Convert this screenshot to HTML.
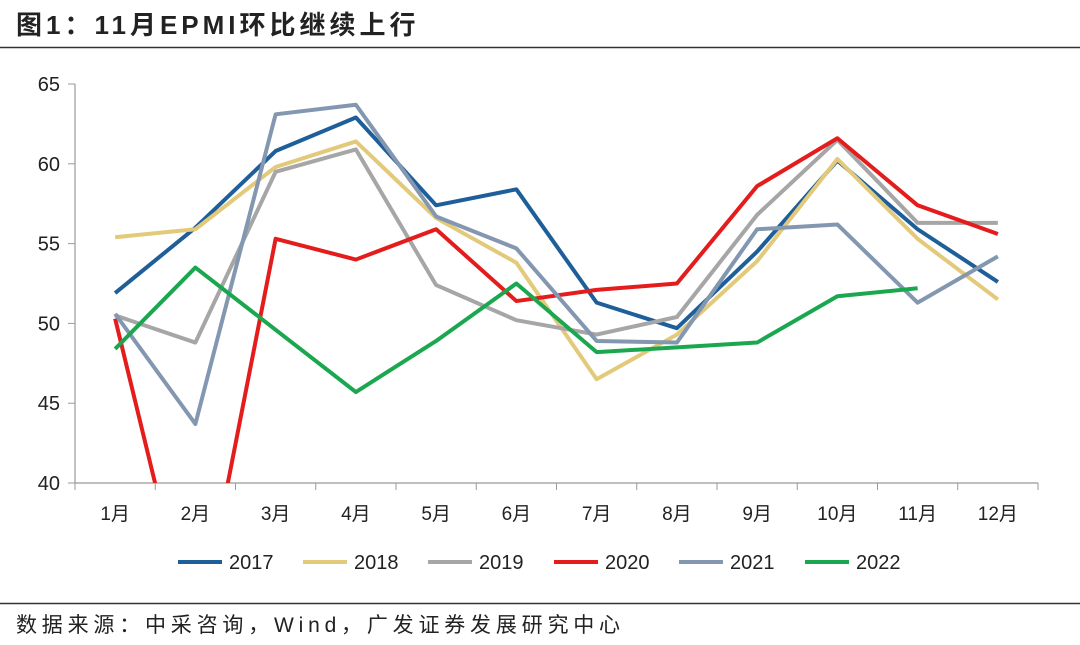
<!DOCTYPE html>
<html><head><meta charset="utf-8"><style>
body{margin:0;background:#fff;width:1080px;height:640px;overflow:hidden;font-family:"Liberation Sans","Noto Sans CJK SC",sans-serif}
</style></head><body>
<svg width="1080" height="640" xmlns="http://www.w3.org/2000/svg">
<text x="16" y="34" font-size="26" font-weight="bold" letter-spacing="4" fill="#222" font-family="Liberation Sans, Noto Sans CJK SC, sans-serif">图1：11月EPMI环比继续上行</text>
<line x1="0" y1="47.5" x2="1080" y2="47.5" stroke="#333" stroke-width="1.5"/>
<line x1="0" y1="603.5" x2="1080" y2="603.5" stroke="#333" stroke-width="1.5"/>
<text x="16" y="632" font-size="21" letter-spacing="4.8" fill="#222" font-family="Liberation Sans, Noto Sans CJK SC, sans-serif">数据来源：中采咨询，Wind，广发证券发展研究中心</text>
<defs><clipPath id="pc"><rect x="75" y="60" width="980" height="423"/></clipPath></defs>
<g id="axes"></g>
<g id="lines" clip-path="url(#pc)"></g>
<g id="legend"></g>
</svg>
<script>
const categories=["1月","2月","3月","4月","5月","6月","7月","8月","9月","10月","11月","12月"];
const yTicks=[40,45,50,55,60,65];
const seriesNames=["2017","2018","2019","2020","2021","2022"];
const seriesColors=["#1f5f99","#e3c97a","#a6a6a6","#e41c1c","#8497b0","#1aa750"];
const s2017=[51.9,56.0,60.8,62.9,57.4,58.4,51.3,49.7,54.5,60.2,55.9,52.6];
const s2018=[55.4,55.9,59.8,61.4,56.6,53.8,46.5,49.3,53.9,60.3,55.3,51.5];
const s2019=[50.5,48.8,59.5,60.9,52.4,50.2,49.3,50.4,56.8,61.5,56.3,56.3];
const s2020=[50.3,29.6,55.3,54.0,55.9,51.4,52.1,52.5,58.6,61.6,57.4,55.6];
const s2021=[50.6,43.7,63.1,63.7,56.7,54.7,48.9,48.8,55.9,56.2,51.3,54.2];
const s2022=[48.4,53.5,49.6,45.7,48.9,52.5,48.2,48.5,48.8,51.7,52.2];
const allSeries=[s2017,s2018,s2019,s2020,s2021,s2022];
const NS="http://www.w3.org/2000/svg";
const x0=75,x1=1038,yB=483,yT=84;
const bw=(x1-x0)/categories.length;
const xs=i=>x0+bw*(i+0.5);
const ys=v=>yB-(v-40)/(65-40)*(yB-yT);
function mk(t,a,p){const e=document.createElementNS(NS,t);for(const k in a)e.setAttribute(k,a[k]);p.appendChild(e);return e;}
const ax=document.getElementById('axes');
const yl=mk('line',{x1:x0,y1:yT,x2:x0,y2:yB,stroke:'#999','stroke-width':1.2},ax);


const xl=mk('line',{x1:x0,y1:yB,x2:x1,y2:yB,stroke:'#999','stroke-width':1.2},ax);


yTicks.forEach(v=>{
 mk('line',{x1:x0-7,y1:ys(v),x2:x0,y2:ys(v),stroke:'#999'},ax);
 const t=mk('text',{x:x0-15,y:ys(v)+7,'text-anchor':'end','font-size':20,fill:'#222'},ax);
 t.textContent=v;
 
 
});
for(let i=0;i<=categories.length;i++)mk('line',{x1:x0+bw*i,y1:yB,x2:x0+bw*i,y2:yB+7,stroke:'#999'},ax);
categories.forEach((c,i)=>{
 const t=mk('text',{x:xs(i),y:yB+37,'text-anchor':'middle','font-size':19,fill:'#222'},ax);
 t.textContent=c;
 
 
});
const lg=document.getElementById('lines');
allSeries.forEach((s,k)=>{
 const p=mk('polyline',{points:s.map((v,i)=>xs(i)+','+ys(v)).join(' '),fill:'none',stroke:seriesColors[k],'stroke-width':4,'stroke-linejoin':'round'},lg);
 
 
});
const le=document.getElementById('legend');
const lx=[178,303,428,554,679,805];
seriesNames.forEach((n,k)=>{
 const g=mk('g',{},le);
 
 
 mk('line',{x1:lx[k],y1:562,x2:lx[k]+44,y2:562,stroke:seriesColors[k],'stroke-width':4},g);
 const t=mk('text',{x:lx[k]+51,y:569,'font-size':20,fill:'#222'},g);
 t.textContent=n;
});
</script>
</body></html>
